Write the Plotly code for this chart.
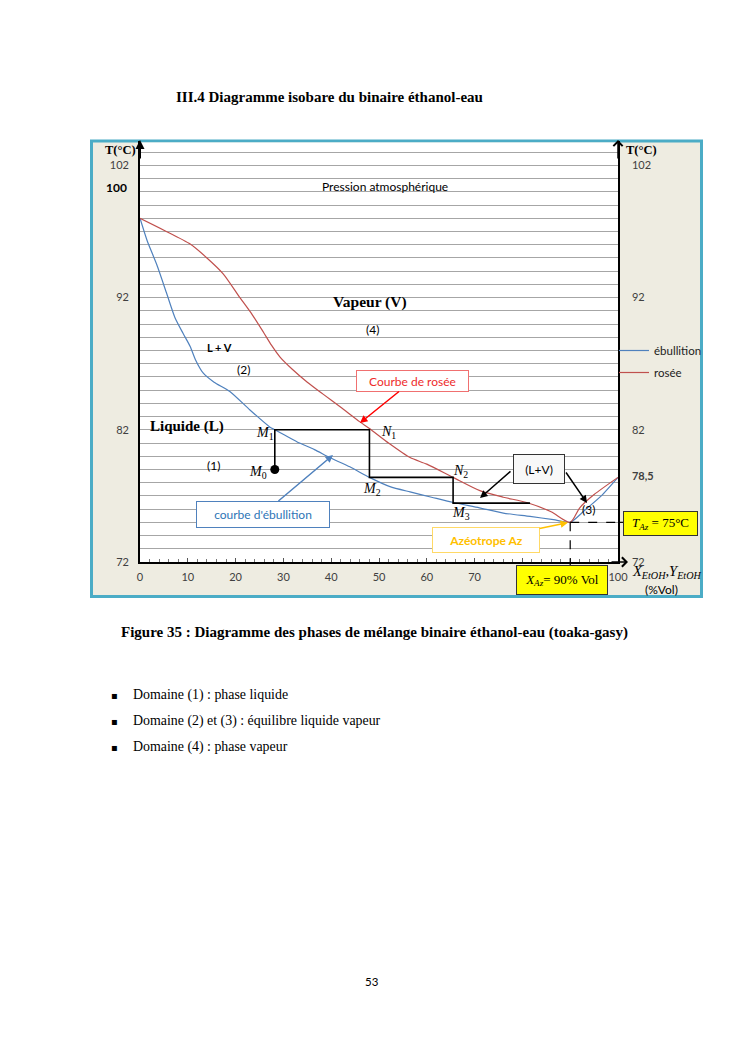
import plotly.graph_objects as go

# ---------------- data ----------------
x_ebullition = [0, 1.5, 3.5, 5.5, 7.3, 9, 10.5, 11.6, 13.2, 15.5, 18.8, 23, 27.2, 28.2, 32.8, 36.5,
                39.7, 43.9, 48, 52.3, 56.5, 61, 65.5, 71, 76, 81.6, 86.5, 90, 93, 96.5, 100]
T_ebullition = [98, 96.3, 94.5, 92.4, 90.5, 89.3, 88.3, 87.3, 86.3, 85.6, 84.9, 83.5, 82.2, 82.0, 81.1, 80.5,
                79.9, 79.2, 78.4, 77.7, 77.3, 76.9, 76.5, 76.1, 75.7, 75.45, 75.2, 75.0, 75.9, 77.0, 78.4]

x_rosee = [0, 5, 10.5, 14, 17.4, 20.9, 23.5, 25.8, 27.5, 29.3, 31.8, 35, 38.3, 42, 46, 48, 52, 56.5,
           60, 65.5, 71.1, 76, 80.9, 86, 90, 92, 95, 100]
T_rosee = [98, 97.1, 96.05, 95.0, 93.8, 92.0, 90.7, 89.4, 88.4, 87.5, 86.6, 85.6, 84.7, 83.7, 82.6, 82.1, 81.0, 79.9,
           79.4, 78.4, 77.4, 76.9, 76.5, 75.8, 75.0, 76.1, 77.1, 78.4]

# distillation steps M0 -> M1 -> N1 -> M2 -> N2 -> M3
x_steps = [28.2, 28.2, 48, 48, 65.5, 65.5, 81.6]
T_steps = [79.0, 82.0, 82.0, 78.4, 78.4, 76.45, 76.45]
x_M0, T_M0 = 28.2, 79.0

x_az, T_az = 90, 75

x_ticks = [0, 10, 20, 30, 40, 50, 60, 70, 80, 90, 100]
left_ticks = [72, 82, 92, 102]
left_labels = ["72", "82", "92", "102"]
right_ticks = [72, 78.5, 82, 92, 102]
right_labels = ["72", "<b>78,5</b>", "82", "92", "102"]

# ---------------- layout geometry ----------------
PAGE_W, PAGE_H = 745, 1053
OFF = 8                      # default body margin of the html page
FW, FH = PAGE_W - OFF, PAGE_H - OFF
L, R, TOP, BOT = 140, 618, 141, 562   # plot area in page pixels
Y_MIN = 72
PX_PER_DEG = 13.22
Y_MAX = Y_MIN + (BOT - TOP) / PX_PER_DEG


def fx(px):
    return (px - L) / (R - L)


def fy(py):
    return (BOT - py) / (BOT - TOP)


def ty(T):
    return (T - Y_MIN) / (Y_MAX - Y_MIN)


SANS = "Lato"
SERIF = "Liberation Serif"
BLUE = "#4F81BD"
RED = "#C0504D"

fig = go.Figure()

fig.add_trace(go.Scatter(x=x_ebullition, y=T_ebullition, mode="lines", name="ébullition",
                         line=dict(color=BLUE, width=1.2, shape="spline", smoothing=0.6),
                         hoverinfo="skip", legendgroup="a"))
fig.add_trace(go.Scatter(x=x_rosee, y=T_rosee, mode="lines", name="rosée",
                         line=dict(color=RED, width=1.2, shape="spline", smoothing=0.7),
                         hoverinfo="skip", legendgroup="b"))
fig.add_trace(go.Scatter(x=x_steps, y=T_steps, mode="lines", showlegend=False,
                         line=dict(color="black", width=1.6), hoverinfo="skip"))
fig.add_trace(go.Scatter(x=[x_M0], y=[T_M0], mode="markers", showlegend=False,
                         marker=dict(color="black", size=9), hoverinfo="skip", cliponaxis=False))
# helper traces so overlay axes render
fig.add_trace(go.Scatter(x=[0], y=[Y_MIN], yaxis="y2", mode="markers", marker=dict(opacity=0),
                         showlegend=False, hoverinfo="skip"))
fig.add_trace(go.Scatter(x=[0], y=[Y_MIN], yaxis="y3", mode="markers", marker=dict(opacity=0),
                         showlegend=False, hoverinfo="skip"))

shapes = [
    # chart frame
    dict(type="rect", xref="paper", yref="paper", x0=fx(91.5), x1=fx(701.5), y0=fy(596.5), y1=fy(141),
         fillcolor="#EEECE1", line=dict(color="#4BACC6", width=3), layer="below"),
    # plot area
    dict(type="rect", xref="paper", yref="paper", x0=0, x1=1, y0=0, y1=fy(142.6),
         fillcolor="white", line=dict(width=0), layer="below"),
    # azeotrope dashed guides
    dict(type="line", xref="x", yref="y", x0=x_az, x1=100, y0=T_az, y1=T_az,
         line=dict(color="black", width=1.2, dash="dash")),
    dict(type="line", xref="paper", yref="paper", x0=1, x1=fx(623), y0=ty(T_az), y1=ty(T_az),
         line=dict(color="black", width=1.2, dash="dash")),
    dict(type="line", xref="x", yref="y", x0=x_az, x1=x_az, y0=T_az, y1=Y_MIN,
         line=dict(color="black", width=1.2, dash="dash")),
    dict(type="line", xref="paper", yref="paper", x0=x_az / 100, x1=x_az / 100, y0=0, y1=fy(565),
         line=dict(color="black", width=1.2, dash="dash")),
]

ann = []


def text(px, py, s, size=12, family=SANS, color="black", xanchor="center", **kw):
    ann.append(dict(x=fx(px), y=fy(py), xref="paper", yref="paper", text=s, showarrow=False,
                    xanchor=xanchor, yanchor="middle",
                    font=dict(family=family, size=size, color=color), **kw))


def arrow(tipx, tipy, startx, starty, color, width=1.5, head=2, size=1):
    ann.append(dict(x=fx(tipx), y=fy(tipy), xref="paper", yref="paper", text="", showarrow=True,
                    ax=startx - tipx, ay=starty - tipy, arrowcolor=color, arrowwidth=width,
                    arrowhead=head, arrowsize=size))


# axis arrows
arrow(140, 140, 140, 160, "black", width=2, head=2, size=0.9)
arrow(618, 140, 618, 160, "black", width=1.5, head=4, size=1.2)
arrow(628, 562, 610, 562, "black", width=1.5, head=4, size=1.2)

# axis titles
text(120, 150, "<b>T(°C)</b>", size=12.5, family=SERIF)
text(641, 150, "<b>T(°C)</b>", size=12.5, family=SERIF)
text(129, 187, "<b>100</b>", size=12, family=SANS, xanchor="right")
text(666, 572, "<i>X</i><sub><i>EtOH</i></sub>,<i>Y</i><sub><i>EtOH</i></sub>", size=14.5, family=SERIF)
text(661, 589, "(%Vol)", size=12)

# in-plot labels
text(385, 186, "Pression atmosphérique", size=12)
text(370, 302, "<b>Vapeur (V)</b>", size=15.5, family=SERIF)
text(372, 329, "(4)", size=12)
text(219, 347, "<b>L + V</b>", size=11)
text(243, 369, "(2)", size=12)
text(187, 426, "<b>Liquide (L)</b>", size=15, family=SERIF)
text(213, 465, "(1)", size=12)
text(588, 509, "(3)", size=12)
text(265, 433, "<i>M</i><sub>1</sub>", size=14, family=SERIF)
text(388, 432, "<i>N</i><sub>1</sub>", size=14, family=SERIF)
text(258, 472, "<i>M</i><sub>0</sub>", size=14, family=SERIF)
text(372, 489, "<i>M</i><sub>2</sub>", size=14, family=SERIF)
text(460, 471, "<i>N</i><sub>2</sub>", size=14, family=SERIF)
text(461, 513, "<i>M</i><sub>3</sub>", size=14, family=SERIF)

# callout boxes
ann.append(dict(x=fx(360), y=fy(423), xref="paper", yref="paper", text="Courbe de rosée",
                showarrow=True, ax=52, ay=-42, arrowcolor="#FF0000", arrowwidth=1.5, arrowhead=2,
                font=dict(family=SANS, size=12, color="#EE2B2B"), bgcolor="white",
                bordercolor="#F07070", borderwidth=1, borderpad=1, width=109, height=18))
ann.append(dict(x=fx(333), y=fy(455), xref="paper", yref="paper", text="courbe d'ébullition",
                showarrow=True, ax=-70, ay=59, arrowcolor=BLUE, arrowwidth=1.5, arrowhead=2,
                font=dict(family=SANS, size=12, color="#2E75B6"), bgcolor="white",
                bordercolor=BLUE, borderwidth=1, borderpad=1, width=130, height=23))
ann.append(dict(x=fx(568), y=fy(522.5), xref="paper", yref="paper", text="<b>Azéotrope Az</b>",
                showarrow=True, ax=-82, ay=17.5, arrowcolor="#FFC000", arrowwidth=1.5, arrowhead=2,
                font=dict(family=SANS, size=12, color="#FFC000"), bgcolor="white",
                bordercolor="#FFD966", borderwidth=1, borderpad=1, width=104, height=22))
# (L+V) box with two arrows
arrow(480, 498, 512, 470, "black", width=1.5, head=2)
arrow(587, 503, 565, 471, "black", width=1.5, head=2)
text(539, 469, "(L+V)", size=12, bgcolor="#F8F8F8", bordercolor="#333333", borderwidth=1,
     borderpad=1, width=48, height=26)
# yellow boxes
text(660.5, 523.5, "<i>T</i><sub><i>Az</i></sub> = 75°C", size=13, family=SERIF,
     bgcolor="#FFFF00", bordercolor="#333333", borderwidth=1, borderpad=1, width=71, height=21)
text(562, 580, "<i>X</i><sub><i>Az</i></sub>= 90% Vol", size=13, family=SERIF,
     bgcolor="#FFFF00", bordercolor="#333333", borderwidth=1, borderpad=1, width=88, height=26)

# page text
text(174, 97, "<b>III.4 Diagramme isobare du binaire éthanol-eau</b>", size=15, family=SERIF,
     xanchor="left")
text(119, 632, "<b>Figure 35 : Diagramme des phases de mélange binaire éthanol-eau (toaka-gasy)</b>",
     size=15, family=SERIF, xanchor="left")
bullets = ["Domaine (1) : phase liquide",
           "Domaine (2) et (3) : équilibre liquide vapeur",
           "Domaine (4) : phase vapeur"]
for i, b in enumerate(bullets):
    yy = 695 + 26 * i
    text(114, yy, "▪", size=10, family="DejaVu Sans")
    text(131, yy, b, size=13.9, family=SERIF, xanchor="left")
text(372, 981, "53", size=11.5)

axis_font = dict(family=SANS, size=11, color="#404040")

fig.update_layout(
    width=FW, height=FH,
    margin=dict(l=L - OFF, r=FW - (R - OFF), t=TOP - OFF, b=FH - (BOT - OFF), pad=0),
    paper_bgcolor="white",
    plot_bgcolor="rgba(0,0,0,0)",
    shapes=shapes,
    annotations=ann,
    showlegend=True,
    legend=dict(x=fx(614), y=fy(336), xanchor="left", yanchor="top", bgcolor="rgba(0,0,0,0)",
                font=dict(family=SANS, size=11.5, color="#222222"), traceorder="grouped",
                tracegroupgap=3, borderwidth=0),
    xaxis=dict(range=[0, 100], tickvals=x_ticks, showgrid=False, zeroline=False,
               showline=True, linecolor="black", linewidth=2, ticks="inside", ticklen=4,
               tickcolor="#555555", tickfont=axis_font, ticklabelstandoff=4,
               minor=dict(dtick=2, ticks="inside", ticklen=3, tickcolor="#777777"),
               fixedrange=True),
    yaxis=dict(range=[Y_MIN, Y_MAX], tick0=72, dtick=1, showgrid=True, gridcolor="#A6A6A6",
               gridwidth=1, showticklabels=False, ticks="", zeroline=False,
               showline=True, linecolor="black", linewidth=2, fixedrange=True),
    yaxis2=dict(range=[Y_MIN, Y_MAX], overlaying="y", side="left", tickvals=left_ticks,
                ticktext=left_labels, showgrid=False, zeroline=False, showline=False,
                tickfont=axis_font, ticks="", ticklabelstandoff=10, fixedrange=True),
    yaxis3=dict(range=[Y_MIN, Y_MAX], overlaying="y", side="right", anchor="x", tickvals=right_ticks,
                ticktext=right_labels, showgrid=False, zeroline=False, showline=True,
                linecolor="black", linewidth=1.5, tickfont=axis_font, ticks="",
                ticklabelstandoff=10, fixedrange=True),
)

fig.write_html("out.html")
